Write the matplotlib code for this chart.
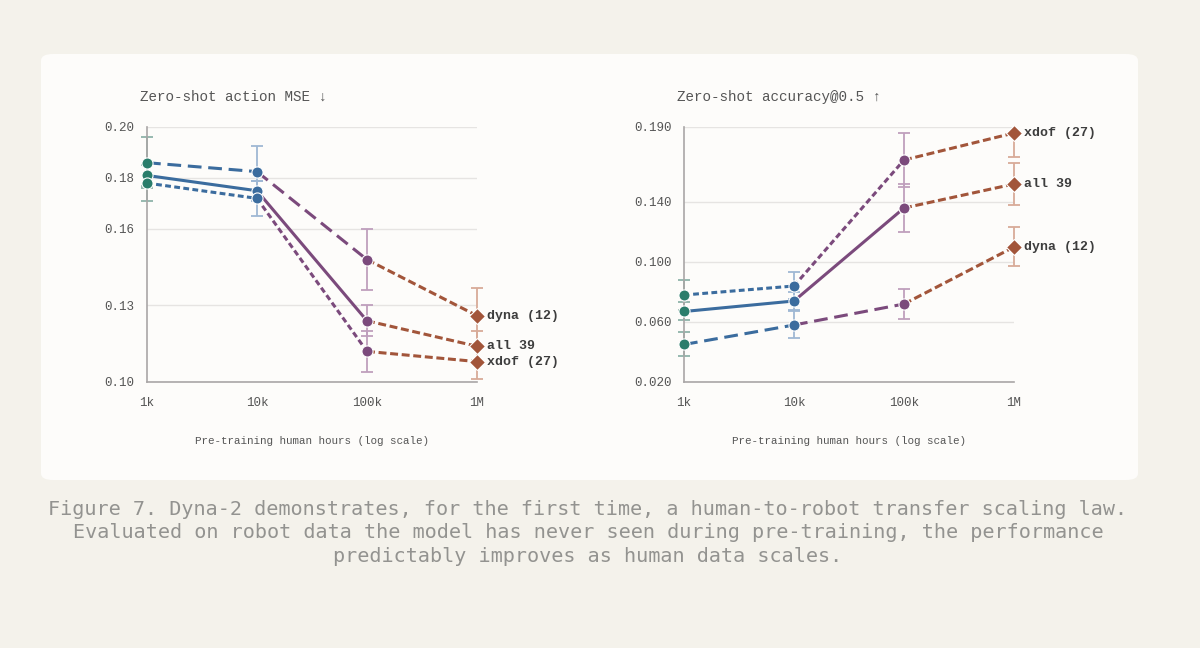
import matplotlib
matplotlib.use("Agg")
import matplotlib.pyplot as plt
from matplotlib.patches import FancyBboxPatch, Rectangle

# ------------------------------------
# data
# ------------------------------------
hours = [1e3, 1e4, 1e5, 1e6]
hour_labels = ["1k", "10k", "100k", "1M"]
series_names = ["dyna (12)", "all 39", "xdof (27)"]

mse_dyna = [0.186, 0.1825, 0.148, 0.126]
mse_all = [0.181, 0.175, 0.124, 0.114]
mse_xdof = [0.178, 0.172, 0.112, 0.108]
mse_err_dyna = [0.010, 0.010, 0.012, 0.011]
mse_err_all = [0.004, 0.004, 0.006, 0.006]
mse_err_xdof = [0.007, 0.007, 0.008, 0.007]
mse_ticks = [0.10, 0.13, 0.16, 0.18, 0.20]
mse_ticklabels = ["0.10", "0.13", "0.16", "0.18", "0.20"]

acc_dyna = [0.045, 0.058, 0.072, 0.110]
acc_all = [0.067, 0.074, 0.136, 0.152]
acc_xdof = [0.078, 0.084, 0.168, 0.186]
acc_err_dyna = [0.008, 0.009, 0.010, 0.013]
acc_err_all = [0.006, 0.006, 0.016, 0.014]
acc_err_xdof = [0.010, 0.009, 0.018, 0.016]
acc_ticks = [0.020, 0.060, 0.100, 0.140, 0.190]
acc_ticklabels = ["0.020", "0.060", "0.100", "0.140", "0.190"]

caption = ("Figure 7. Dyna-2 demonstrates, for the first time, a human-to-robot transfer scaling law.\n"
           "Evaluated on robot data the model has never seen during pre-training, the performance\n"
           "predictably improves as human data scales.")

# ------------------------------------
# style
# ------------------------------------
bg = "#f4f2eb"
card = "#fdfcfa"
pt_colors = ["#2a7d6b", "#3b6c9e", "#7b4a7c", "#a2553a"]
err_colors = ["#8fb3aa", "#9fb8d4", "#bf9fbd", "#d8ab98"]
styles = {"dyna (12)": (0, (4.5, 2.2)), "all 39": "-", "xdof (27)": (0, (1.9, 1.1))}
last_style = (0, (2.6, 1.2))
txt = "#555555"
mono = ["Liberation Mono", "DejaVu Sans Mono"]
lw = 2.2

fig = plt.figure(figsize=(12, 6.48), dpi=100, facecolor=bg)
fig.patches.append(FancyBboxPatch((41 / 1200, 1 - 480 / 648), 1097 / 1200, 426 / 648,
                                  boxstyle="round,pad=0,rounding_size=0.01",
                                  transform=fig.transFigure, facecolor=card,
                                  edgecolor="none", zorder=-5))


def panel(ax, vals, errs, ticks, ticklabels, ylim, title):
    ax.set_facecolor("none")
    ax.set_xscale("log")
    ax.set_xlim(hours[0], hours[-1])
    ax.set_ylim(*ylim)
    ax.set_yticks(ticks)
    ax.set_yticklabels(ticklabels)
    ax.set_xticks(hours)
    ax.set_xticklabels(hour_labels)
    ax.minorticks_off()
    ax.tick_params(length=0, labelsize=9, colors=txt)
    ax.tick_params(axis="y", pad=9)
    ax.tick_params(axis="x", pad=11)
    for lab in ax.get_xticklabels() + ax.get_yticklabels():
        lab.set_family(mono)
    ax.grid(axis="y", color="#e6e4e2", lw=1)
    ax.set_axisbelow(True)
    for s in ["top", "right"]:
        ax.spines[s].set_visible(False)
    for s in ["left", "bottom"]:
        ax.spines[s].set_color("#a9a6a6")
        ax.spines[s].set_linewidth(1.2)
    ax.set_xlabel("Pre-training human hours (log scale)", family=mono, fontsize=7.8,
                  color=txt, labelpad=19)
    ax.text(-0.02, 1.09, title, transform=ax.transAxes, family=mono, fontsize=10.3,
            color=txt, ha="left", va="bottom")

    # error bars may stick out left/right of the axes, but not above/below
    clip = Rectangle((-0.1, 0), 1.2, 1, transform=ax.transAxes, visible=False)
    ax.add_patch(clip)

    for name, y, e in zip(series_names, vals, errs):
        for i in range(4):
            eb = ax.errorbar(hours[i], y[i], yerr=e[i], fmt="none", ecolor=err_colors[i],
                             elinewidth=1.3, capsize=4.5, capthick=1.3, zorder=2)
            for art in eb.lines[1] + eb.lines[2]:
                art.set_clip_path(clip)
        for i in range(3):
            ls = styles[name] if i < 2 else last_style
            ax.plot(hours[i:i + 2], y[i:i + 2], color=pt_colors[i + 1], lw=lw, ls=ls,
                    zorder=3, clip_on=False)
        for i in range(4):
            ax.plot(hours[i], y[i], marker="D" if i == 3 else "o",
                    ms=8.5 if i == 3 else 8, color=pt_colors[i], mec="#ffffff",
                    mew=0.8, zorder=4, clip_on=False)
        ax.annotate(name, (hours[3], y[3]), xytext=(7, 0), textcoords="offset points",
                    family=mono, fontsize=9.5, fontweight="bold", color="#3d3d3d",
                    ha="left", va="center", annotation_clip=False)


ax1 = fig.add_axes([147 / 1200, 1 - 382 / 648, 330 / 1200, 255 / 648])
panel(ax1, [mse_dyna, mse_all, mse_xdof], [mse_err_dyna, mse_err_all, mse_err_xdof],
      mse_ticks, mse_ticklabels, (0.10, 0.20), "Zero-shot action MSE \u2193")

ax2 = fig.add_axes([684 / 1200, 1 - 382 / 648, 330 / 1200, 255 / 648])
panel(ax2, [acc_dyna, acc_all, acc_xdof], [acc_err_dyna, acc_err_all, acc_err_xdof],
      acc_ticks, acc_ticklabels, (0.020, 0.190), "Zero-shot accuracy@0.5 \u2191")

fig.text(0.49, 1 - 533 / 648, caption, ha="center", va="center", family="DejaVu Sans Mono",
         fontsize=14.5, color="#939390", linespacing=1.27)

fig.savefig("out.png", dpi=100, facecolor=bg)
